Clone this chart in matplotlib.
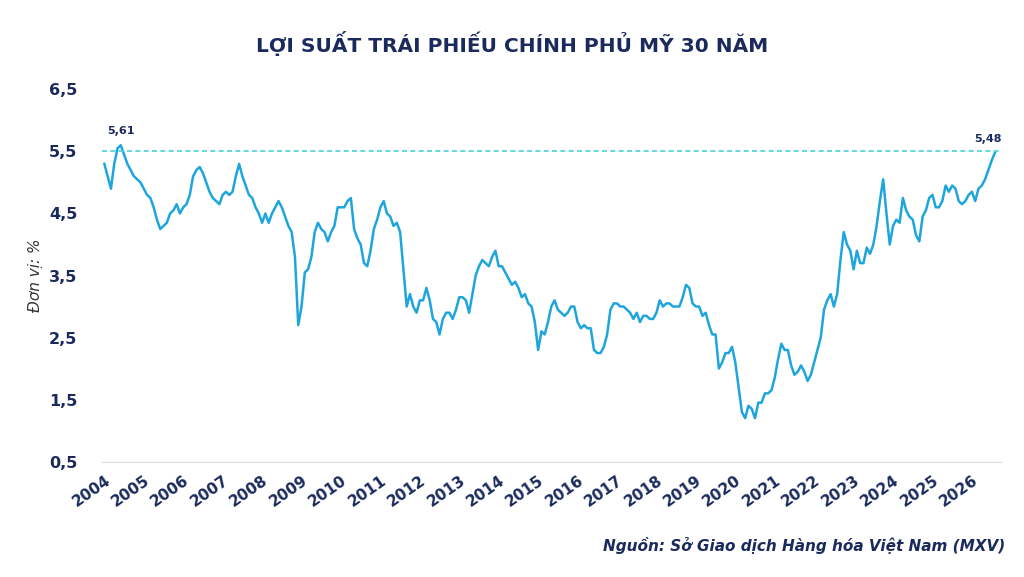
import matplotlib
matplotlib.use("Agg")
import matplotlib.pyplot as plt
import numpy as np

years = list(range(2004, 2027))
monthly = {
2004:[5.3,5.1,4.9,5.3,5.55,5.6,5.45,5.3,5.2,5.1,5.05,5.0],
2005:[4.9,4.8,4.75,4.6,4.4,4.25,4.3,4.35,4.5,4.55,4.65,4.5],
2006:[4.6,4.65,4.8,5.1,5.2,5.25,5.15,5.0,4.85,4.75,4.7,4.65],
2007:[4.8,4.85,4.8,4.85,5.1,5.3,5.1,4.95,4.8,4.75,4.6,4.5],
2008:[4.35,4.5,4.35,4.5,4.6,4.7,4.6,4.45,4.3,4.2,3.8,2.7],
2009:[3.0,3.55,3.6,3.8,4.2,4.35,4.25,4.2,4.05,4.2,4.3,4.6],
2010:[4.6,4.6,4.7,4.75,4.25,4.1,4.0,3.7,3.65,3.9,4.25,4.4],
2011:[4.6,4.7,4.5,4.45,4.3,4.35,4.2,3.6,3.0,3.2,3.0,2.9],
2012:[3.1,3.1,3.3,3.1,2.8,2.75,2.55,2.8,2.9,2.9,2.8,2.95],
2013:[3.15,3.15,3.1,2.9,3.2,3.5,3.65,3.75,3.7,3.65,3.8,3.9],
2014:[3.65,3.65,3.55,3.45,3.35,3.4,3.3,3.15,3.2,3.05,3.0,2.75],
2015:[2.3,2.6,2.55,2.75,3.0,3.1,2.95,2.9,2.85,2.9,3.0,3.0],
2016:[2.75,2.65,2.7,2.65,2.65,2.3,2.25,2.25,2.35,2.55,2.95,3.05],
2017:[3.05,3.0,3.0,2.95,2.9,2.8,2.9,2.75,2.85,2.85,2.8,2.8],
2018:[2.9,3.1,3.0,3.05,3.05,3.0,3.0,3.0,3.15,3.35,3.3,3.05],
2019:[3.0,3.0,2.85,2.9,2.7,2.55,2.55,2.0,2.1,2.25,2.25,2.35],
2020:[2.1,1.7,1.3,1.2,1.4,1.35,1.2,1.45,1.45,1.6,1.6,1.65],
2021:[1.85,2.15,2.4,2.3,2.3,2.05,1.9,1.95,2.05,1.95,1.8,1.9],
2022:[2.1,2.3,2.5,2.95,3.1,3.2,3.0,3.2,3.75,4.2,4.0,3.9],
2023:[3.6,3.9,3.7,3.7,3.95,3.85,4.0,4.3,4.7,5.05,4.5,4.0],
2024:[4.3,4.4,4.35,4.75,4.55,4.45,4.4,4.15,4.05,4.45,4.55,4.75],
2025:[4.8,4.6,4.6,4.7,4.95,4.85,4.95,4.9,4.7,4.65,4.7,4.8],
2026:[4.85,4.7,4.9,4.95,5.05,5.2,5.35,5.48],
}
t, v = [], []
for y in years:
    for i, val in enumerate(monthly[y]):
        t.append(y + i/12)
        v.append(val)

navy = "#1b2a5c"
blue = "#1ea5dd"
fig = plt.figure(figsize=(10.24, 5.77), dpi=100)
ax = fig.add_axes([0.1, 0.2, 0.878, 0.645])
ax.plot(t, v, color=blue, lw=1.8)
ax.axhline(5.5, color="#49d2d8", ls=(0, (3, 2)), lw=1.2)
ax.set_ylim(0.5, 6.5)
ax.set_xlim(2003.95, 2026.75)
ax.set_yticks([0.5, 1.5, 2.5, 3.5, 4.5, 5.5, 6.5])
ax.set_yticklabels([f"{x:.1f}".replace(".", ",") for x in [0.5,1.5,2.5,3.5,4.5,5.5,6.5]],
                   fontweight="bold", color=navy, fontsize=11.5)
ax.set_xticks(years)
ax.set_xticklabels([str(y) for y in years], rotation=35, ha="right",
                   rotation_mode="anchor", fontweight="bold", color=navy, fontsize=11)
ax.tick_params(axis="y", length=0, pad=18)
ax.tick_params(axis="x", length=0, pad=8)
for s in ["top", "right", "left"]:
    ax.spines[s].set_visible(False)
ax.spines["bottom"].set_color("#dddddd")
ax.set_ylabel("Đơn vị: %", style="italic", color="#333333", fontsize=11, labelpad=4)
i = int(np.argmax(v[:12]))
ax.annotate("5,61", (t[i], v[i]), xytext=(0, 8), textcoords="offset points",
            ha="center", fontsize=8, fontweight="bold", color=navy)
ax.annotate("5,48", (t[-1], v[-1]), xytext=(-5, 8), textcoords="offset points",
            ha="center", fontsize=8, fontweight="bold", color=navy)
fig.text(0.5, 0.91, "LỢI SUẤT TRÁI PHIẾU CHÍNH PHỦ MỸ 30 NĂM", ha="center",
         fontsize=14.5, fontweight="bold", color=navy)
fig.text(0.982, 0.045, "Nguồn: Sở Giao dịch Hàng hóa Việt Nam (MXV)", ha="right",
         fontsize=11, fontweight="bold", style="italic", color=navy)
fig.savefig("out.png", dpi=100)
